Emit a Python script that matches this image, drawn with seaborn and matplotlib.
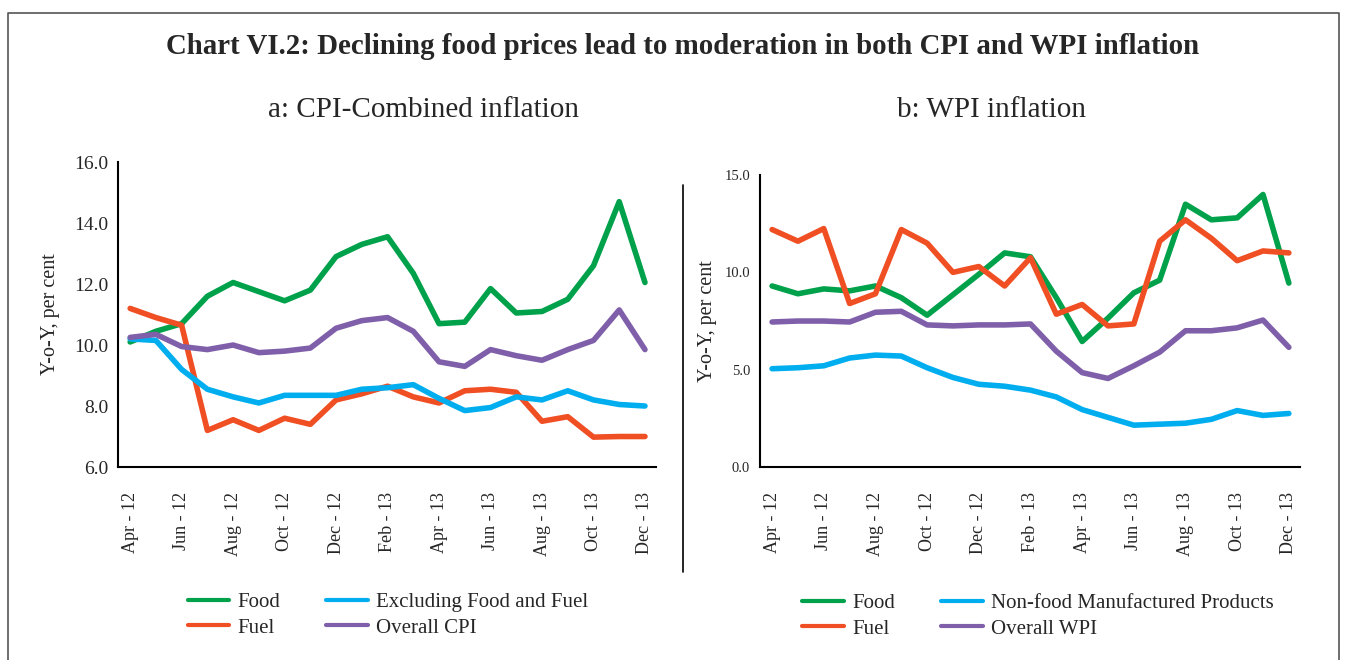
import matplotlib
matplotlib.use("Agg")
import matplotlib.pyplot as plt
import pandas as pd
import seaborn as sns
from matplotlib.lines import Line2D

# --- DATA (monthly, Apr-2012 .. Dec-2013) ---
months = ["Apr-12", "May-12", "Jun-12", "Jul-12", "Aug-12", "Sep-12", "Oct-12",
          "Nov-12", "Dec-12", "Jan-13", "Feb-13", "Mar-13", "Apr-13", "May-13",
          "Jun-13", "Jul-13", "Aug-13", "Sep-13", "Oct-13", "Nov-13", "Dec-13"]
tick_labels = ["Apr - 12", "Jun - 12", "Aug - 12", "Oct - 12", "Dec - 12", "Feb - 13",
               "Apr - 13", "Jun - 13", "Aug - 13", "Oct - 13", "Dec - 13"]

cpi_food = [10.1, 10.45, 10.7, 11.6, 12.05, 11.75, 11.45, 11.8, 12.9, 13.3, 13.55,
            12.35, 10.7, 10.75, 11.85, 11.05, 11.1, 11.5, 12.6, 14.7, 12.05]
cpi_fuel = [11.2, 10.9, 10.65, 7.2, 7.55, 7.2, 7.6, 7.4, 8.2, 8.4, 8.65,
            8.3, 8.1, 8.5, 8.55, 8.45, 7.5, 7.65, 6.98, 7.0, 7.0]
cpi_core = [10.2, 10.15, 9.2, 8.55, 8.3, 8.1, 8.35, 8.35, 8.35, 8.55, 8.6,
            8.7, 8.25, 7.85, 7.95, 8.3, 8.2, 8.5, 8.2, 8.05, 8.0]
cpi_all = [10.25, 10.35, 9.95, 9.85, 10.0, 9.75, 9.8, 9.9, 10.55, 10.8, 10.9,
           10.45, 9.45, 9.3, 9.85, 9.65, 9.5, 9.85, 10.15, 11.15, 9.85]

wpi_food = [9.3, 8.9, 9.15, 9.05, 9.3, 8.7, 7.8, 8.85, 9.9, 11.0, 10.8,
            8.7, 6.45, 7.65, 8.95, 9.6, 13.5, 12.7, 12.8, 14.0, 9.45]
wpi_fuel = [12.2, 11.6, 12.25, 8.4, 8.9, 12.2, 11.5, 10.0, 10.3, 9.3, 10.75,
            7.85, 8.35, 7.25, 7.35, 11.6, 12.7, 11.75, 10.6, 11.1, 11.0]
wpi_mfg = [5.05, 5.1, 5.2, 5.6, 5.75, 5.7, 5.1, 4.6, 4.25, 4.15, 3.95,
           3.6, 2.95, 2.55, 2.15, 2.2, 2.25, 2.45, 2.9, 2.65, 2.75]
wpi_all = [7.45, 7.5, 7.5, 7.45, 7.95, 8.0, 7.3, 7.25, 7.3, 7.3, 7.35,
           5.95, 4.85, 4.55, 5.2, 5.9, 7.0, 7.0, 7.15, 7.55, 6.15]

cpi_names = ["Food", "Fuel", "Excluding Food and Fuel", "Overall CPI"]
wpi_names = ["Food", "Fuel", "Non-food Manufactured Products", "Overall WPI"]
COLORS = ["#00A14B", "#F04E23", "#00AEEF", "#7F5FA9"]

FONT = "Liberation Serif"


def to_long(names, series):
    frames = []
    for name, vals in zip(names, series):
        frames.append(pd.DataFrame({"idx": range(len(months)), "value": vals, "series": name}))
    return pd.concat(frames, ignore_index=True)


def draw_panel(ax, df, names, ylim, yticks, ytick_size, ylabel_x):
    sns.lineplot(data=df, x="idx", y="value", hue="series", hue_order=names,
                 palette=COLORS, linewidth=4, ax=ax, legend=True)
    for ln in ax.get_lines():
        ln.set_solid_capstyle("round")
        ln.set_solid_joinstyle("round")

    ax.set_xlim(-0.47, 20.43)
    ax.set_ylim(*ylim)
    ax.set_yticks(yticks)
    ax.set_yticklabels([f"{v:.1f}" for v in yticks], fontsize=ytick_size, family=FONT)
    ax.tick_params(axis="y", direction="out", length=5, width=1.2, pad=2)

    # major ticks at category borders, labels on every other month
    ax.set_xticks([2 * k + 1.5 for k in range(10)])
    ax.set_xticklabels([])
    ax.tick_params(axis="x", which="major", direction="out", length=7, width=1.2)
    ax.set_xticks([2 * k for k in range(11)], minor=True)
    ax.set_xticklabels(tick_labels, minor=True, rotation=90, fontsize=13, family=FONT,
                       va="top")
    ax.tick_params(axis="x", which="minor", length=0, pad=18)

    ax.set_xlabel("")
    ax.set_ylabel("Y-o-Y, per cent", fontsize=14.5, family=FONT)
    ax.yaxis.set_label_coords(ylabel_x, 0.5)

    for s in ["top", "right"]:
        ax.spines[s].set_visible(False)
    for s in ["left", "bottom"]:
        ax.spines[s].set_color("black")
        ax.spines[s].set_linewidth(1.5)

    handles, labels = ax.get_legend_handles_labels()
    ax.get_legend().remove()
    for h in handles:
        h.set_linewidth(3)
    return handles, labels


sns.set_theme(style="white")
plt.rcParams["font.family"] = [FONT, "DejaVu Serif"]

fig = plt.figure(figsize=(13.46, 6.6), dpi=100)
ax1 = fig.add_axes([0.0877, 0.2924, 0.3997, 0.4621])
ax2 = fig.add_axes([0.5646, 0.2924, 0.4012, 0.4424])

h1, l1 = draw_panel(ax1, to_long(cpi_names, [cpi_food, cpi_fuel, cpi_core, cpi_all]),
                    cpi_names, (6, 16), [6, 8, 10, 12, 14, 16], 14, -0.108)
h2, l2 = draw_panel(ax2, to_long(wpi_names, [wpi_food, wpi_fuel, wpi_mfg, wpi_all]),
                    wpi_names, (0, 15), [0, 5, 10, 15], 10.5, -0.08)

leg_kw = dict(ncol=2, frameon=False, handlelength=2.0, handletextpad=0.4,
              columnspacing=2.2, labelspacing=0.3, loc="center",
              prop={"family": FONT, "size": 15})
fig.legend(h1, l1, bbox_to_anchor=(388 / 1346, 1 - 615 / 660), **leg_kw)
fig.legend(h2, l2, bbox_to_anchor=(1038 / 1346, 1 - 616 / 660), **leg_kw)

fig.text(0.5074, 1 - 47 / 660,
         "Chart VI.2: Declining food prices lead to moderation in both CPI and WPI inflation",
         ha="center", va="center", fontsize=20.8, fontweight="bold", family=FONT)
fig.text(423 / 1346, 1 - 110 / 660, "a: CPI-Combined inflation",
         ha="center", va="center", fontsize=21, family=FONT)
fig.text(991 / 1346, 1 - 110 / 660, "b: WPI inflation",
         ha="center", va="center", fontsize=21, family=FONT)

# separator between panels and outer frame
fig.add_artist(Line2D([683 / 1346, 683 / 1346], [1 - 185 / 660, 1 - 572 / 660],
                      color="black", lw=1.2, transform=fig.transFigure))
fx0, fx1, fy0 = 8 / 1346, 1339 / 1346, 1 - 13 / 660
fig.add_artist(Line2D([fx0, fx0, fx1, fx1], [0, fy0, fy0, 0], color="#555555", lw=1.2,
                      transform=fig.transFigure))

fig.savefig("out.png", dpi=100)
plt.close(fig)
